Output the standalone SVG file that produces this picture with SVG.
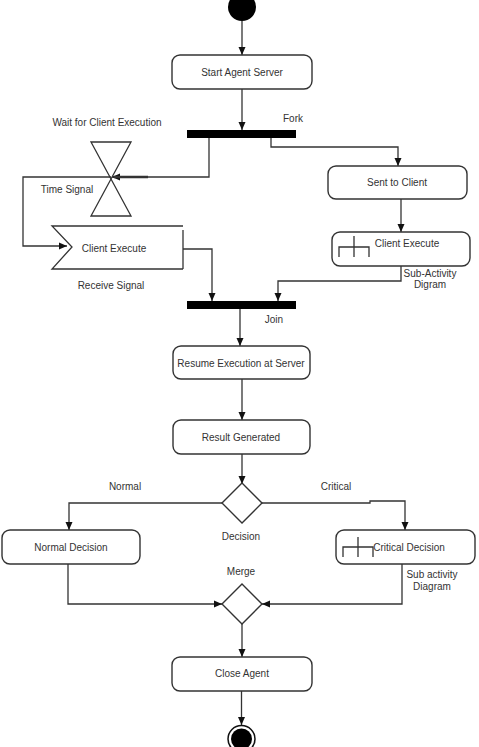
<svg xmlns="http://www.w3.org/2000/svg" width="479" height="747" viewBox="0 0 479 747">
<style>
.box{fill:#fff;stroke:#333;stroke-width:1.4}
.ln{fill:none;stroke:#333;stroke-width:1.3}
.arr{marker-end:url(#ah)}
.t{font-family:"Liberation Sans",Arial,sans-serif;font-size:10px;fill:#333;text-anchor:middle;dominant-baseline:central}
.bar{fill:#000}
</style>
<defs>
<marker id="ah" markerUnits="userSpaceOnUse" markerWidth="8" markerHeight="8" refX="8" refY="4" orient="auto">
<path d="M0,0.5 L8,4 L0,7.5 z" fill="#111"/>
</marker>
</defs>
<rect width="479" height="747" fill="#fff"/>
<g id="connectors">
<line class="ln arr" x1="242" y1="21" x2="242" y2="55"/>
<line class="ln arr" x1="242" y1="89" x2="242" y2="130"/>
<polyline class="ln arr" points="209,138 209,177 112,177"/>
<line x1="114" y1="177" x2="148" y2="177" stroke="#333" stroke-width="2.4"/>
<polyline class="ln arr" points="111,177 23,177 23,246 67,246"/>
<polyline class="ln arr" points="271,138 271,147 398,147 398,166"/>
<line class="ln arr" x1="401" y1="199" x2="401" y2="232"/>
<polyline class="ln arr" points="183,249 212,249 212,301"/>
<polyline class="ln arr" points="401,266 401,281 278,281 278,301"/>
<line class="ln arr" x1="240" y1="309" x2="240" y2="346"/>
<line class="ln arr" x1="242" y1="379" x2="242" y2="420"/>
<line class="ln arr" x1="242" y1="454" x2="242" y2="484"/>
<polyline class="ln arr" points="222,503 69,503 69,530"/>
<polyline class="ln arr" points="262,503 370,503 370,501 405,501 405,530"/>
<polyline class="ln arr" points="68,564 68,604 222,604"/>
<polyline class="ln arr" points="402,564 402,604 262,604"/>
<line class="ln arr" x1="242" y1="624" x2="242" y2="657"/>
<line class="ln arr" x1="241.5" y1="691" x2="241.5" y2="725"/>
</g>
<g id="start"><circle cx="242" cy="7" r="14" fill="#000"/></g>
<g id="startAgent"><rect class="box" x="172" y="55" width="140" height="34" rx="8"/><text class="t" x="242" y="72">Start Agent Server</text></g>
<g id="fork"><rect class="bar" x="187" y="130" width="109" height="8"/><text class="t" x="293" y="118">Fork</text></g>
<g id="wait"><text class="t" x="107" y="122">Wait for Client Execution</text>
<path class="ln" d="M91,142 L131,142 L91,216 L131,216 Z" stroke-width="1.4"/>
<text class="t" x="67" y="189">Time Signal</text></g>
<g id="clientExecuteRecv"><path class="ln" d="M183,226 L52,226 L72,247 L52,269 L183,269" stroke-width="1.4"/><line class="ln" x1="183" y1="230" x2="183" y2="269" stroke-width="1.4"/>
<text class="t" x="114" y="248">Client Execute</text><text class="t" x="111" y="285">Receive Signal</text></g>
<g id="sentToClient"><rect class="box" x="328" y="166" width="139" height="33" rx="8"/><text class="t" x="397" y="182">Sent to Client</text></g>
<g id="clientExecuteSub"><rect class="box" x="332" y="232" width="138" height="34" rx="8"/>
<path class="ln" d="M339,257 L339,247 L369,247 L369,257 M354,236 L354,257"/>
<text class="t" x="407" y="243">Client Execute</text>
<text class="t" x="430" y="273">Sub-Activity</text><text class="t" x="430" y="284">Digram</text></g>
<g id="join"><rect class="bar" x="187" y="301" width="109" height="8"/><text class="t" x="274" y="319">Join</text></g>
<g id="resume"><rect class="box" x="173" y="346" width="137" height="33" rx="8"/><text class="t" x="241" y="363">Resume Execution at Server</text></g>
<g id="result"><rect class="box" x="173" y="420" width="137" height="34" rx="8"/><text class="t" x="241" y="437">Result Generated</text></g>
<g id="decision"><path class="box" d="M242,483 L262,503 L242,523 L222,503 Z"/>
<text class="t" x="241" y="536">Decision</text><text class="t" x="125" y="486">Normal</text><text class="t" x="336" y="486">Critical</text></g>
<g id="normalDecision"><rect class="box" x="2" y="530" width="138" height="34" rx="8"/><text class="t" x="71" y="547">Normal Decision</text></g>
<g id="criticalDecision"><rect class="box" x="336" y="530" width="139" height="34" rx="8"/>
<path class="ln" d="M343,557 L343,547 L373,547 L373,557 M358,537 L358,557"/>
<text class="t" x="409" y="547">Critical Decision</text>
<text class="t" x="432" y="574">Sub activity</text><text class="t" x="432" y="586">Diagram</text></g>
<g id="merge"><path class="box" d="M242,584 L262,604 L242,624 L222,604 Z"/><text class="t" x="241" y="571">Merge</text></g>
<g id="closeAgent"><rect class="box" x="172" y="657" width="140" height="34" rx="8"/><text class="t" x="242" y="673">Close Agent</text></g>
<g id="end"><circle cx="241.5" cy="739" r="13.5" fill="#fff" stroke="#111" stroke-width="1.5"/><circle cx="241.5" cy="739" r="10.5" fill="#000"/></g>
</svg>
